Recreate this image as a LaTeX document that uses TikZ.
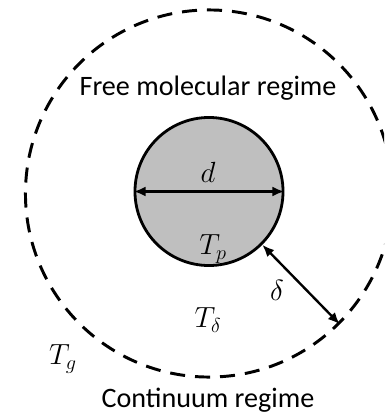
\documentclass[tikz,border=0pt]{standalone}
\usepackage{fontspec}
\setmainfont{Carlito}
\usepackage{xcolor}
\usetikzlibrary{arrows.meta}

\definecolor{particlegray}{RGB}{191,191,191}

\begin{document}
\begin{tikzpicture}[
  x=0.025cm, y=-0.025cm,
  particle/.style={
    circle,
    draw=black,
    line width=2pt,
    fill=particlegray,
    minimum size=3.7cm,
    inner sep=0pt
  },
  layer/.style={
    circle,
    draw=black,
    line width=2.1pt,
    dash pattern=on 10.7pt off 7.1pt,
    minimum size=9.175cm,
    inner sep=0pt
  },
  regime/.style={font=\fontsize{20}{24}\selectfont, inner sep=0pt},
  symbol/.style={font=\fontsize{21}{25}\selectfont, inner sep=0pt},
  arrow/.style={{Latex[length=3mm, width=2.5mm]}-{Latex[length=3mm, width=2.5mm]}, line width=1.7pt}
]
\clip (0,0) rectangle (384,414);
\node[layer] (layer) at (209,193.5) {};
\node[particle] (particle) at (209,191.5) {};
\draw[arrow] (particle.west) -- (particle.east);
\draw[arrow] (particle.-45) -- (layer.-45);
% labels
\node[regime] (free) at (208,88) {Free molecular regime};
\node[regime] (cont) at (208,400) {Continuum regime};
\node[symbol] (dlab) at (208,172) {$d$};
\node[symbol] (tp) at (213,249) {$T_p$};
\node[symbol] (delta) at (277,290) {$\delta$};
\node[symbol] (tdelta) at (208,320) {$T_\delta$};
\node[symbol] (tg) at (63,359) {$T_g$};
\end{tikzpicture}
\end{document}
